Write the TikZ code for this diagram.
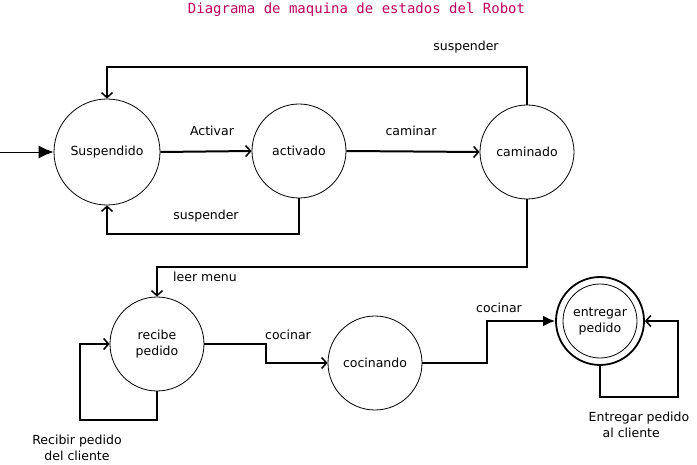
\documentclass[tikz,border=0pt]{standalone}
\usepackage{fontspec}
\setmainfont{DejaVu Sans}
\setmonofont{DejaVu Sans Mono}
\usepackage{xcolor}
\usetikzlibrary{arrows.meta, positioning}

\definecolor{titlered}{RGB}{190,0,95}

\tikzset{
    state/.style={circle, draw, line width=0.8pt, minimum size=94pt, inner sep=0pt,
        align=center, font=\fontsize{12.5}{16}\selectfont},
    edge/.style={line width=2pt, -{Straight Barb[length=5pt, width=11pt, line width=1.5pt]}},
    fedge/.style={line width=2pt, -{Latex[length=12pt, width=11pt]}},
    lbl/.style={inner sep=0pt, align=center, font=\fontsize{12.5}{16}\selectfont}
}

\begin{document}
\begin{tikzpicture}[x=1pt, y=-1pt]
        \useasboundingbox (0, 0) rectangle (697, 465);

        \node[font=\ttfamily\fontsize{14}{16}\selectfont, text=titlered] (title) at (356.5, 10) {Diagrama de maquina de estados del Robot};

        \node[state, minimum size=106pt] (sus) at (107, 152) {Suspendido};
        \node[state] (act) at (299, 151) {activado};
        \node[state] (cam) at (527, 152) {caminado};
        \node[state] (rec) at (157, 344) {recibe\\pedido};
        \node[state] (coc) at (375, 363) {cocinando};
        \node[state, minimum size=88pt, line width=1.8pt] (ent) at (600, 321) {entregar\\pedido};
        \draw[line width=0.8pt] (ent.center) circle[radius=37];

        \coordinate (start) at (0, 152);

        \draw[line width=0.9pt, -{Latex[length=15pt, width=13pt]}] (start) to (sus.west);
        \draw[edge] (sus.east) to (act.west);
        \draw[edge] (act.east) to (cam.west);
        \draw[edge] (cam.north) -- ++(0, -38) -| (sus.north);
        \draw[edge] (act.south) -- ++(0, 36) -| (sus.south);
        \draw[edge] (cam.south) -- ++(0, 68) -| (rec.north);
        \draw[edge] (rec.east) -- ++(62, 0) |- (coc.west);
        \draw[fedge] (coc.east) -- ++(65, 0) |- (ent.west);
        \draw[edge] (rec.south) -- ++(0, 29) -- ++(-77, 0) |- (rec.west);
        \draw[edge] (ent.south) -- ++(0, 31) -- ++(78, 0) |- (ent.east);

        \node[lbl] (l1) at (466, 47) {suspender};
        \node[lbl] (l2) at (212, 131) {Activar};
        \node[lbl] (l3) at (411, 131) {caminar};
        \node[lbl] (l4) at (206, 216) {suspender};
        \node[lbl] (l5) at (205, 277) {leer menu};
        \node[lbl] (l6) at (288, 335) {cocinar};
        \node[lbl] (l7) at (499, 308) {cocinar};
        \node[lbl] (l8) at (77, 448) {Recibir pedido\\del cliente};
        \node[lbl, align=left] (l9) at (639, 425) {Entregar pedido\\\hspace*{14pt}al cliente};
    \end{tikzpicture}
\end{document}
